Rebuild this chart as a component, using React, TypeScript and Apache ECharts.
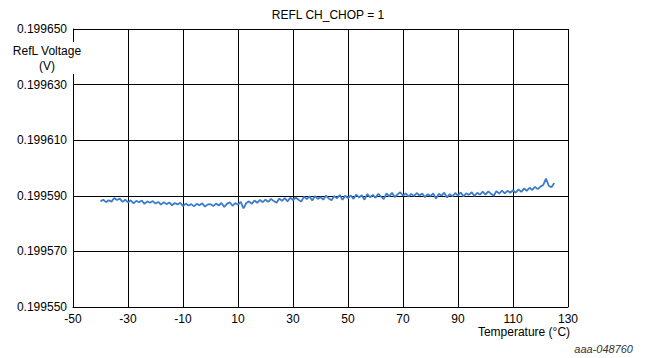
import React, { useEffect, useRef } from "react";
import * as echarts from "echarts";

const title = "REFL CH_CHOP = 1";
const yAxisName = "RefL Voltage\n(V)";
const xAxisName = "Temperature (°C)";
const figureId = "aaa-048760";

const temperatures: number[] = [];
for (let t = -40; t <= 125; t++) temperatures.push(t);

const voltage: number[] = [
  // -40..-31
  0.1995880, 0.1995886, 0.1995877, 0.1995884, 0.1995879, 0.1995892, 0.1995885, 0.1995890, 0.1995878, 0.1995886,
  // -30..-21
  0.1995876, 0.1995884, 0.1995873, 0.1995882, 0.1995877, 0.1995883, 0.1995871, 0.1995880, 0.1995875, 0.1995881,
  // -20..-11
  0.1995872, 0.1995878, 0.1995868, 0.1995877, 0.1995870, 0.1995876, 0.1995866, 0.1995874, 0.1995869, 0.1995875,
  // -10..-1
  0.1995863, 0.1995872, 0.1995865, 0.1995870, 0.1995862, 0.1995871, 0.1995866, 0.1995873, 0.1995861, 0.1995869,
  // 0..9
  0.1995870, 0.1995863, 0.1995872, 0.1995865, 0.1995874, 0.1995860, 0.1995871, 0.1995877, 0.1995864, 0.1995874,
  // 10..19
  0.1995868, 0.1995878, 0.1995855, 0.1995874, 0.1995880, 0.1995871, 0.1995883, 0.1995875, 0.1995885, 0.1995877,
  // 20..29
  0.1995886, 0.1995878, 0.1995889, 0.1995881, 0.1995875, 0.1995890, 0.1995882, 0.1995892, 0.1995880, 0.1995893,
  // 30..39
  0.1995885, 0.1995894, 0.1995886, 0.1995879, 0.1995897, 0.1995888, 0.1995898, 0.1995883, 0.1995899, 0.1995889,
  // 40..49
  0.1995895, 0.1995886, 0.1995901, 0.1995890, 0.1995884, 0.1995899, 0.1995891, 0.1995903, 0.1995886, 0.1995900,
  // 50..59
  0.1995892, 0.1995901, 0.1995889, 0.1995904, 0.1995894, 0.1995902, 0.1995886, 0.1995906, 0.1995895, 0.1995903,
  // 60..69
  0.1995893, 0.1995907, 0.1995897, 0.1995888, 0.1995909, 0.1995898, 0.1995911, 0.1995895, 0.1995905, 0.1995913,
  // 70..79
  0.1995900, 0.1995909, 0.1995897, 0.1995907, 0.1995899, 0.1995910, 0.1995901, 0.1995908, 0.1995895, 0.1995906,
  // 80..89
  0.1995899, 0.1995909, 0.1995890, 0.1995907, 0.1995901, 0.1995911, 0.1995894, 0.1995906, 0.1995898, 0.1995910,
  // 90..99
  0.1995901, 0.1995912, 0.1995898, 0.1995909, 0.1995903, 0.1995913, 0.1995899, 0.1995911, 0.1995904, 0.1995915,
  // 100..109
  0.1995904, 0.1995916, 0.1995907, 0.1995900, 0.1995917, 0.1995908, 0.1995919, 0.1995909, 0.1995918, 0.1995911,
  // 110..119
  0.1995920, 0.1995911, 0.1995923, 0.1995914, 0.1995926, 0.1995918, 0.1995929, 0.1995921, 0.1995932, 0.1995924,
  // 120..125
  0.1995933, 0.1995939, 0.1995962, 0.1995936, 0.1995931, 0.1995946,
];

// axis range in microvolts (to avoid floating-point tick drift)
const yMin = 199550;
const yMax = 199650;
const yStep = 20;
const xMin = -50;
const xMax = 130;
const xStep = 20;

const FONT = "'Liberation Sans', Arial, sans-serif";

export default function App() {
  const ref = useRef<HTMLDivElement>(null);
  useEffect(() => {
    if (!ref.current) return;
    const chart = echarts.init(ref.current, undefined, { renderer: "svg" });
    const data = temperatures.map((t, i) => [t, Math.round(voltage[i] * 1e7) / 10]);
    chart.setOption({
      animation: false,
      backgroundColor: "#ffffff",
      title: {
        text: title,
        left: 323,
        textAlign: "center",
        top: 4,
        textStyle: { fontFamily: FONT, fontSize: 12, fontWeight: "normal", color: "#000" },
      },
      grid: { left: 73, right: 80, top: 29, bottom: 51, containLabel: false },
      xAxis: {
        type: "value",
        min: xMin,
        max: xMax,
        interval: xStep,
        axisLine: { show: true, onZero: false, lineStyle: { color: "#000", width: 1 } },
        axisTick: { show: false },
        axisLabel: { fontFamily: FONT, fontSize: 12, color: "#000", margin: 6 },
        splitLine: { show: true, lineStyle: { color: "#000", width: 1 } },
      },
      yAxis: {
        type: "value",
        min: yMin,
        max: yMax,
        interval: yStep,
        axisLine: { show: true, onZero: false, lineStyle: { color: "#000", width: 1 } },
        axisTick: { show: false },
        axisLabel: {
          fontFamily: FONT,
          fontSize: 12,
          color: "#000",
          margin: 6,
          formatter: (v: number) => (v / 1e6).toFixed(6),
        },
        splitLine: { show: true, lineStyle: { color: "#000", width: 1 } },
      },
      graphic: [
        {
          type: "text",
          x: 47,
          y: 42,
          z: 100,
          style: {
            text: yAxisName,
            fontFamily: FONT,
            fontSize: 12,
            fill: "#000",
            align: "center",
            lineHeight: 15,
            backgroundColor: "#fff",
            padding: [1, 2, 1, 2],
          },
        },
        {
          type: "text",
          x: 524,
          y: 326,
          style: {
            text: xAxisName,
            fontFamily: FONT,
            fontSize: 12,
            fill: "#000",
            align: "center",
          },
        },
        {
          type: "text",
          x: 633,
          y: 343,
          style: {
            text: figureId,
            fontFamily: FONT,
            fontSize: 11,
            fontStyle: "italic",
            fill: "#333",
            align: "right",
          },
        },
      ],
      series: [
        {
          type: "line",
          data,
          showSymbol: false,
          symbol: "none",
          lineStyle: { color: "#3b7dcc", width: 1.8 },
          z: 5,
        },
      ],
    });
    return () => chart.dispose();
  }, []);
  return (
    <div
      ref={ref}
      style={{ position: "fixed", left: 0, top: 0, width: 648, height: 358 }}
    />
  );
}
